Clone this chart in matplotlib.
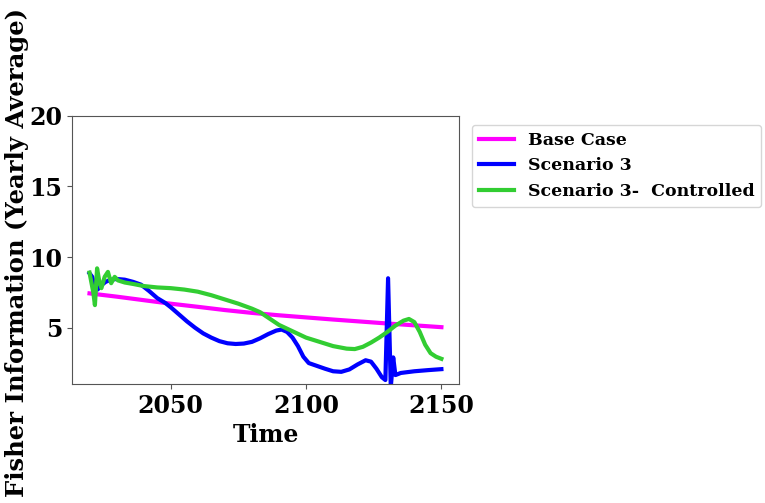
import numpy as np
import matplotlib.pyplot as plt

plt.rcParams['font.family'] = 'DejaVu Serif'
plt.rcParams['font.weight'] = 'bold'

# Base Case
base_years = [2020, 2030, 2040, 2050, 2060, 2070, 2080, 2090, 2100, 2110, 2120, 2130, 2140, 2150]
base_vals = [7.43, 7.2, 6.95, 6.7, 6.48, 6.25, 6.05, 5.88, 5.73, 5.58, 5.44, 5.3, 5.17, 5.04]

# Scenario 3
s3_years = [2020, 2021, 2022, 2023, 2024, 2026, 2028, 2030, 2033, 2036, 2039, 2042, 2045,
            2048, 2050, 2053, 2056, 2059, 2062, 2065, 2068, 2071, 2074, 2077, 2080, 2083,
            2086, 2089, 2091, 2093, 2095, 2097, 2099, 2101, 2104, 2107, 2110, 2113, 2116,
            2119, 2122, 2124, 2126, 2128, 2129.3, 2130.3, 2131.3, 2132.2, 2133, 2135,
            2140, 2145, 2150]
s3_vals = [8.85, 8.6, 7.9, 7.7, 7.95, 8.25, 8.4, 8.45, 8.4, 8.25, 8.05, 7.6, 7.1,
           6.75, 6.45, 5.95, 5.45, 5.0, 4.6, 4.3, 4.05, 3.9, 3.85, 3.88, 4.0, 4.25,
           4.55, 4.8, 4.87, 4.7, 4.3, 3.7, 2.95, 2.5, 2.3, 2.1, 1.92, 1.88, 2.05,
           2.4, 2.7, 2.6, 2.1, 1.5, 1.3, 8.5, 0.8, 2.9, 1.65, 1.8,
           1.92, 2.0, 2.07]

# Scenario 3- Controlled
s3c_years = [2020, 2020.7, 2021.4, 2022.0, 2022.8, 2023.6, 2024.4, 2025.6, 2026.8, 2028,
             2029.3, 2030.5, 2033, 2036, 2040, 2045, 2050, 2055, 2060, 2065, 2070, 2075,
             2080, 2083, 2090, 2095, 2100, 2105, 2110, 2115, 2118, 2121, 2124, 2127,
             2130, 2133, 2136, 2138, 2140, 2142, 2144, 2146, 2148, 2150]
s3c_vals = [8.9, 8.2, 7.5, 6.6, 9.2, 8.3, 7.8, 8.6, 8.95, 8.15,
            8.6, 8.35, 8.2, 8.1, 7.95, 7.85, 7.8, 7.7, 7.55, 7.3, 7.0, 6.7,
            6.35, 6.1, 5.2, 4.75, 4.3, 4.0, 3.7, 3.52, 3.49, 3.65, 3.95, 4.3,
            4.7, 5.15, 5.5, 5.62, 5.4, 4.7, 3.8, 3.2, 2.95, 2.8]

fig = plt.figure(figsize=(7.65, 5.03), dpi=100)
ax = fig.add_axes([0.094, 0.2366, 0.506, 0.5334])

ax.plot(base_years, base_vals, color='magenta', lw=3, label='Base Case')
ax.plot(s3_years, s3_vals, color='blue', lw=3, label='Scenario 3')
ax.plot(s3c_years, s3c_vals, color='limegreen', lw=3, label='Scenario 3-  Controlled')

ax.set_ylim(1.02, 20)
ax.set_yticks([5, 10, 15, 20])
ax.set_xticks([2050, 2100, 2150])
ax.tick_params(labelsize=17)
for s in ax.spines.values():
    s.set_color('#555555')
ax.tick_params(color='#555555')

ax.set_xlabel('Time', fontsize=17, fontweight='bold')
ax.set_ylabel('Fisher Information (Yearly Average)', fontsize=17.5, fontweight='bold')
ax.yaxis.set_label_coords(-0.112, 0.489)

ax.legend(loc='upper left', bbox_to_anchor=(0.617, 0.752), bbox_transform=fig.transFigure,
          borderaxespad=0, prop={'weight': 'bold', 'size': 12.5})

fig.savefig('out.png', dpi=100)
